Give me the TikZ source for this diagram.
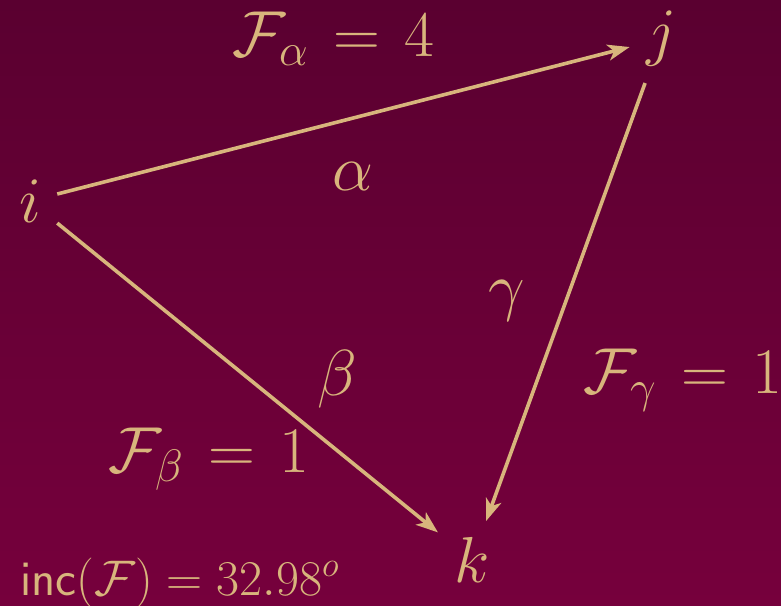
\documentclass[tikz,border=0pt]{standalone}
\usepackage{fix-cm}
\usepackage{tikz}
\usetikzlibrary{positioning,arrows.meta}
\definecolor{bgtop}{RGB}{90,0,48}
\definecolor{bgbot}{RGB}{118,0,60}
\definecolor{sand}{RGB}{216,181,124}
\tikzset{
  vtx/.style  ={inner sep=8pt, font=\fontsize{32.5}{39}\selectfont, text=sand},
  lbl/.style  ={inner sep=0pt, font=\fontsize{32.5}{39}\selectfont, text=sand,
                execute at begin node={\thickmuskip=6.8mu\relax}},
  note/.style ={inner sep=0pt, font=\fontsize{25}{30}\selectfont, text=sand},
  arr/.style  ={-{Stealth[length=11pt, width=8pt, inset=3pt]}, line width=1.8pt, draw=sand},
}

\begin{document}
\begin{tikzpicture}[x=0.5pt, y=-0.5pt]
  \fill[top color=bgtop, bottom color=bgbot] (0,0) rectangle (781,605);
  \useasboundingbox (0,0) rectangle (781,605);

  \node[vtx] (i) at (30,201) {$i$};
  \node[vtx] (j) at (661,39) {$j$};
  \node[vtx] (k) at (472,560) {$k$};

  \draw[arr] (i) -- (j);
  \draw[arr] (i) -- (k);
  \draw[arr] (j) -- (k);

  \node[lbl] (alpha) at (353,177) {$\alpha$};
  \node[lbl] (beta)  at (337,379) {$\beta$};
  \node[lbl] (gamma) at (507,301) {$\gamma$};

  \node[lbl, anchor=base west] (fa) at (232,56)  {$\mathcal{F}_\alpha = 4$};
  \node[lbl, anchor=base west] (fb) at (108,472) {$\mathcal{F}_\beta = 1$};
  \node[lbl, anchor=base west] (fg) at (583,393) {$\mathcal{F}_\gamma = 1$};

  \node[note, anchor=base west] (inc) at (20,595) {\textsf{inc}$(\mathcal{F}) = 32.98^o$};
\end{tikzpicture}
\end{document}
